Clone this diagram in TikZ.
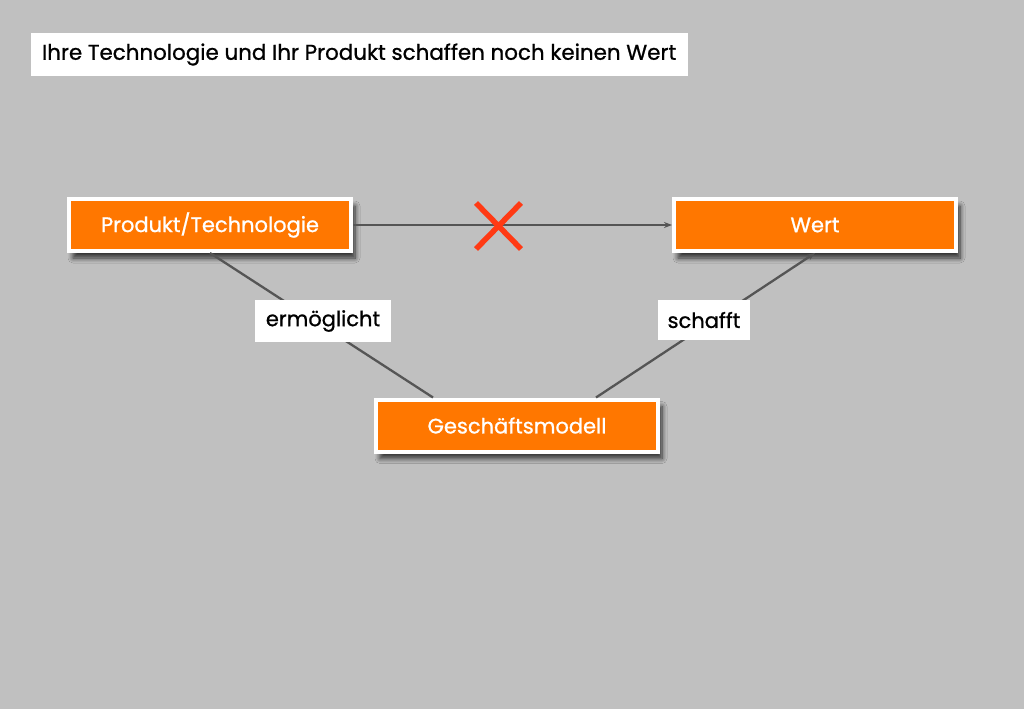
\documentclass[tikz,border=0pt]{standalone}
\usepackage{fontspec}
\setmainfont{Poppins}[FakeBold=0.9]
\usetikzlibrary{shadows.blur,arrows.meta,calc}
\definecolor{bg}{HTML}{C0C0C0}
\definecolor{boxorange}{HTML}{FF7700}
\definecolor{linegray}{HTML}{555555}
\definecolor{xred}{HTML}{FF3A14}
\tikzset{
  orangebox/.style={draw=white, line width=4pt, fill=boxorange, text=white,
    minimum width=282pt, minimum height=52pt, inner sep=0pt,
    font=\fontsize{21}{23}\selectfont,
    blur shadow={shadow xshift=4pt, shadow yshift=-7pt, shadow opacity=75, shadow blur steps=8, shadow blur radius=5pt}},
  labelbox/.style={fill=white, inner sep=0pt, text=black,
    font=\fontsize{21}{23}\selectfont},
  conn/.style={draw=linegray, line width=2.3pt},
  arr/.style={conn, -{Stealth[length=8pt,width=6pt]}},
}
\begin{document}
\begin{tikzpicture}[x=1pt,y=-1pt]
\fill[bg] (0,0) rectangle (1024,709);
\useasboundingbox (0,0) rectangle (1024,709);
\node[labelbox, minimum width=657pt, minimum height=43pt] (title) at (359.5,54.5) {};
\node[anchor=west, inner sep=0pt, text=black, font=\fontsize{21.4}{23}\selectfont] (titletext) at ([xshift=11pt]title.west) {Ihre Technologie und Ihr Produkt schaffen noch keinen Wert};
\node[orangebox] (p) at (210,225) {Produkt/Technologie};
\node[orangebox] (w) at (815,225) {Wert};
\node[orangebox] (g) at (517,425.5) {Geschäftsmodell};
\draw[arr] (p.east) -- (w.west);
\draw[conn] (p.south) -- ([xshift=-84pt]g.north);
\draw[arr] ([xshift=79pt]g.north) -- (w.south);
\coordinate (x1) at (476,203);
\coordinate (x2) at (521,249);
\coordinate (x3) at (521,203);
\coordinate (x4) at (476,249);
\draw[xred, line width=5.5pt] (x1) -- (x2) (x3) -- (x4);
\node[labelbox, minimum width=136pt, minimum height=42pt] (l1) at (323,321) {ermöglicht};
\node[labelbox, minimum width=92pt, minimum height=40pt] (l2) at (704,320) {schafft};
\end{tikzpicture}
\end{document}
